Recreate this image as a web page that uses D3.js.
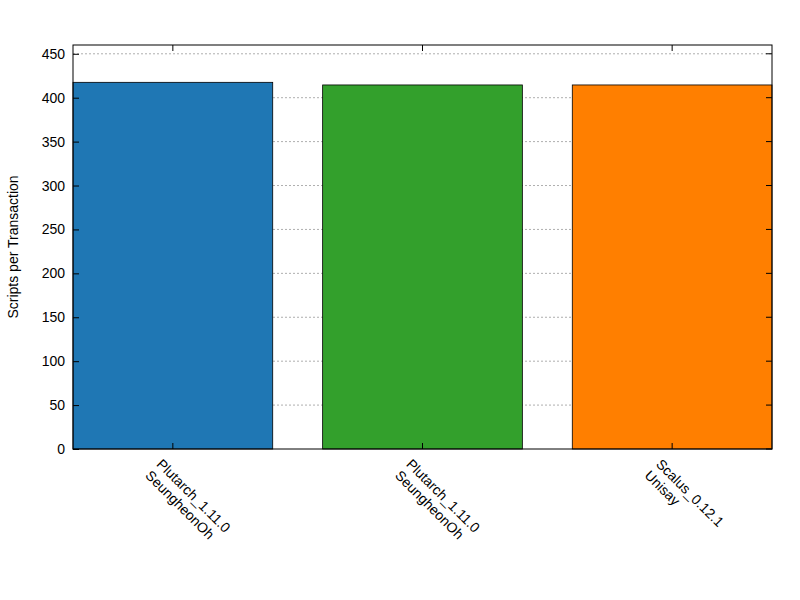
<!DOCTYPE html>
<html><head><meta charset="utf-8">
<script src="https://cdn.jsdelivr.net/npm/d3@7"></script>
<style>body{margin:0;background:#fff}</style></head>
<body><svg id="c" width="800" height="600"></svg>
<script>
const categories = [["Plutarch_1.11.0","SeungheonOh"],["Plutarch_1.11.0","SeungheonOh"],["Scalus_0.12.1","Unisay"]];
const values = [417.5, 414.5, 414.5];
const colors = ["#1f77b4","#33a02c","#ff7f00"];
const yTicks = [0,50,100,150,200,250,300,350,400,450];

const svg = d3.select("#c");
const L=73,R=772,T=45,B=449;
const x = d3.scaleLinear().domain([-0.4,2.4]).range([L,R]);
const y = d3.scaleLinear().domain([0,460]).range([B,T]);
const font = "Liberation Sans, Arial, sans-serif";

// grid
svg.append("g").selectAll("line").data(yTicks.slice(1)).join("line")
 .attr("x1",L).attr("x2",R).attr("y1",d=>y(d)).attr("y2",d=>y(d))
 .attr("stroke","#999").attr("stroke-width",0.8).attr("stroke-dasharray","2,2");

// bars
svg.append("g").selectAll("rect").data(values).join("rect")
 .attr("x",(d,i)=>x(i-0.4)).attr("width",(d,i)=>x(i+0.4)-x(i-0.4))
 .attr("y",d=>y(d)).attr("height",d=>B-y(d))
 .attr("fill",(d,i)=>colors[i]).attr("stroke","#000").attr("stroke-width",0.8);

// frame
svg.append("rect").attr("x",L).attr("y",T).attr("width",R-L).attr("height",B-T)
 .attr("fill","none").attr("stroke","#000").attr("stroke-width",1);

// y axis
const ya = svg.append("g").attr("transform",`translate(${L},0)`)
 .call(d3.axisLeft(y).tickValues(yTicks).tickSize(-6).tickPadding(8));
ya.select(".domain").remove();
ya.selectAll("text").attr("font-family",font).attr("font-size",14).attr("fill","#000");
// right-side ticks
svg.append("g").selectAll("line").data(yTicks).join("line")
 .attr("x1",R).attr("x2",R-6).attr("y1",d=>y(d)).attr("y2",d=>y(d)).attr("stroke","#000");

// x ticks top & bottom
[0,1,2].forEach(i=>{
 svg.append("line").attr("x1",x(i)).attr("x2",x(i)).attr("y1",T).attr("y2",T+6).attr("stroke","#000");
 svg.append("line").attr("x1",x(i)).attr("x2",x(i)).attr("y1",B).attr("y2",B-6).attr("stroke","#000");
 const t = svg.append("text").attr("transform",`translate(${x(i)-17},${B+16}) rotate(45)`)
  .attr("font-family",font).attr("font-size",14).attr("fill","#000");
 categories[i].forEach((s,j)=>t.append("tspan").attr("x",j*-11.3).attr("dy",j?16:0).text(s));
});
// adjust second line: second line starts below-left in rotated frame
svg.selectAll("text tspan").filter(function(){return this.previousSibling}).attr("x",0);

svg.append("text").attr("transform","translate(18,247) rotate(-90)").attr("text-anchor","middle")
 .attr("font-family",font).attr("font-size",14).text("Scripts per Transaction");
</script></body></html>
